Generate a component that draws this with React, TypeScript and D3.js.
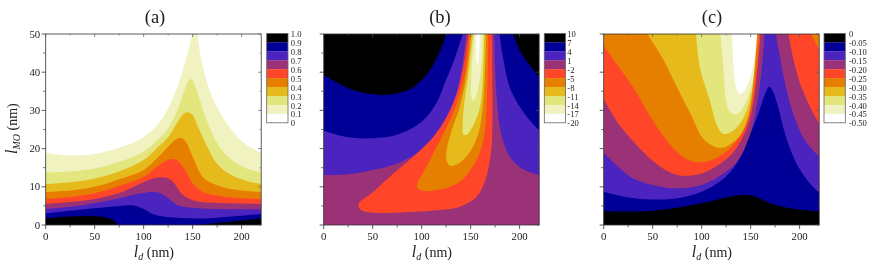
import React from "react";
import * as d3 from "d3";

type P = [number, number];
const palette = ["#000000", "#000096", "#4b23be", "#9b3278", "#ff4628", "#e67e00", "#e6ba1a", "#e3e57d", "#f0f2c0", "#ffffff"];

const labelsA = ["1.0", "0.9", "0.8", "0.7", "0.6", "0.5", "0.4", "0.3", "0.2", "0.1", "0"];
const labelsB = ["10", "7", "4", "1", "-2", "-5", "-8", "-11", "-14", "-17", "-20"];
const labelsC = ["0", "-0.05", "-0.10", "-0.15", "-0.20", "-0.25", "-0.30", "-0.35", "-0.40", "-0.45", "-0.50"];
const xTicks = [0, 50, 100, 150, 200];
const xMinor = [25, 75, 125, 175];
const yTicks = [0, 10, 20, 30, 40, 50];
const yMinor = [5, 15, 25, 35, 45];

// Panel (a): upper boundary of each band, painted from the palest to the darkest
const a01: P[] = [[0,18.9],[25,18.2],[50,18.6],[75,20.2],[100,23],[115,26.5],[125,30.5],[135,36.5],[142,42.5],[148,48],[150.5,51]];
const a01r: P[] = [[154.5,51],[157,46],[161,40.8],[170,33.5],[185,26.6],[200,22],[210,20.2],[220,19]];
const a02: P[] = [[0,13.7],[25,14],[50,14.8],[75,16.5],[100,19.2],[115,22.5],[125,25.3],[135,30.5],[141,34.8],[146,37.8],[149,38.2],[152,36.8],[157,33],[165,27],[175,21.4],[190,17],[205,14.8],[220,13.7]];
const a03: P[] = [[0,10.7],[25,11.2],[50,12.2],[75,14],[100,17],[115,20.5],[125,23],[135,27],[141,29.2],[145,29.5],[150,28.8],[155,26],[165,20.5],[175,16],[190,13],[205,11.5],[220,10.7]];
const a04: P[] = [[0,8.6],[25,9],[50,10],[75,12],[100,14.4],[115,17.8],[125,20.5],[132,22.2],[138,22.8],[143,21.8],[150,17.9],[160,12.6],[170,10.9],[185,9.6],[200,9],[220,8.6]];
const a05: P[] = [[0,6.8],[25,7.3],[50,8.3],[75,10.2],[100,12.6],[115,15.5],[125,17],[132,17.2],[140,15.3],[150,10.9],[160,8.7],[170,7.9],[190,7.2],[220,6.8]];
const a06: P[] = [[0,5.5],[25,6],[50,6.8],[75,8.4],[90,10],[105,11.8],[118,12.5],[128,11.8],[140,7.9],[150,6.5],[165,5.9],[190,5.7],[220,5.5]];
const a07: P[] = [[0,4.2],[25,4.8],[50,5.7],[75,7],[90,7.9],[105,8.6],[115,8.5],[125,7],[135,5.2],[150,4.5],[170,4.2],[220,4.1]];
const a08: P[] = [[0,3],[25,3.7],[50,4.4],[75,5],[90,5.1],[100,4.2],[110,2.8],[120,2.2],[140,1.8],[160,1.7],[190,2.2],[220,2.9]];
const a09: P[] = [[0,1.7],[25,2.2],[45,2.3],[58,2.15],[66,1.6],[71,0.9],[72.5,0]];
const a09b: P[] = [[154,0],[220,1.7]];

// Panel (b): each region is a left boundary (going up) and a right boundary (going down)
const b1L: P[] = [[0,39.3],[25,35.8],[50,34.2],[70,34.2],[90,35.8],[105,39.3],[115,43.6],[122,47.5],[126,51]];
const b1R: P[] = [[192,51],[200,45.8],[210,41.9],[220,38.7]];
const b2L: P[] = [[0,24.7],[25,23],[50,22.7],[75,23.6],[100,27],[115,31.9],[125,38],[135,44.5],[143,51]];
const b2R: P[] = [[179,51],[183,44],[190,36],[200,31],[210,27.5],[220,24.7]];
const b3L: P[] = [[0,13.1],[25,13.3],[50,14.4],[75,16.1],[100,19.6],[115,23.1],[125,27.5],[135,34],[141,41],[146,51]];
const b3R: P[] = [[174,51],[175,41],[177,32],[181,24],[190,17.9],[202,14.8],[220,13.1]];
const b4L: P[] = [[35,5],[37,6.1],[47,7.9],[67.8,12.7],[91.6,17.9],[112,23.1],[125.7,28.4],[136,34.5],[142.7,41.5],[148,51]];
const b4R: P[] = [[171.7,51],[172.3,32.7],[171,19.6],[165,11.8],[156,7.4],[139,4.8],[112,3.8],[78,3.3],[52,3.2],[39,3.8],[35,5]];
const b5L: P[] = [[95,10],[95.7,10.9],[100,13],[112,18.8],[125.7,25.7],[136,31.9],[144.4,39.7],[149.5,51]];
const b5R: P[] = [[168,51],[166.6,32.7],[163,22.2],[156,17],[142.7,12.2],[129,10],[112,9],[100,9],[95,10]];
const b6L: P[] = [[125,17],[125.7,20],[130.8,24.9],[139,31],[146,39.7],[151,51]];
const b6R: P[] = [[166,51],[163,32.7],[158,24],[149.5,19.2],[137.6,16.1],[129,15.5],[125,17]];
const b7L: P[] = [[141.7,24.5],[142.7,30],[147.8,39.7],[153,51]];
const b7R: P[] = [[163.8,51],[162.5,38.8],[159.7,31],[153,26.2],[146,23.6],[142.7,23.6],[141.7,24.5]];
const b8L: P[] = [[150.2,34.5],[151.2,41.5],[154,51]];
const b8R: P[] = [[162.5,51],[161.4,43.2],[158,36.2],[154.6,33.2],[152.2,32.5],[150.2,34.5]];
const b9L: P[] = [[155.7,43],[155.3,51]];
const b9R: P[] = [[159.7,51],[158.8,46],[157.2,42],[155.7,43]];
const regionsB: P[][][] = [[b1L, b1R], [b2L, b2R], [b3L, b3R], [b4L, b4R], [b5L, b5R], [b6L, b6R], [b7L, b7R], [b8L, b8R], [b9L, b9R]];

// Panel (c): the central lobes, then the regions under each boundary
const c7: P[] = [[94,51],[98,41.5],[109,32],[115,26.5],[122,23.9],[132,24.7],[142,27.7],[149.5,33],[155,42],[157.5,51]];
const c8: P[] = [[119,51],[122,41.5],[125,32.5],[129,29.5],[136,29],[144,31.5],[151,36.5],[156,44],[157.5,51]];
const c9: P[] = [[131,51],[132.5,41.5],[136,35.3],[139,34.2],[144,35.3],[151,39.8],[154.5,45],[157,51]];
const c5L: P[] = [[42.2,51],[61,43.2],[76.3,35.3],[90,28.4],[100,23.1],[110,20.9],[120.6,20.2],[130.8,21.4],[141,24],[147.8,28.4],[153,38],[157,51]];
const c5R: P[] = [[190,51],[220,51]];
const c4L: P[] = [[0,47],[15,41.5],[32,35.3],[45.6,29.2],[59,24],[69.5,20.5],[83,17.5],[96.7,16.4],[110,17],[127,19.6],[141,24],[149.5,30],[154.6,38],[158.7,51]];
const c4R: P[] = [[209.8,51],[220,45.8]];
const c3L: P[] = [[0,33],[15,26.6],[32,21.4],[49,17],[66,14],[79.7,12.9],[100,13.5],[117,15.7],[134,19.6],[147.8,26.6],[154.6,35.3],[160.4,51]];
const c3R: P[] = [[188,51],[193.8,43.2],[202,36],[212.5,30],[220,26.6]];
const c2L: P[] = [[0,18.9],[15,15.2],[30,12.2],[50,10.5],[75,9.6],[100,10.5],[117,12.6],[134,16],[146,21],[155,29.5],[161,40],[164.5,51]];
const c2R: P[] = [[175,51],[180,44],[185,37.3],[193,29.5],[205,22.3],[220,17.9]];
const c1: P[] = [[0,8.7],[25,7.2],[50,6.7],[75,7],[100,8.7],[125,12.7],[140,17.9],[150,24],[158,29.2],[165,34.5],[169,36.2],[173,34.9],[178,31],[185,24],[195,17],[205,12.7],[215,9.6],[220,8.5]];
const c0: P[] = [[0,3.6],[50,3.75],[100,5.7],[125,7.2],[145,7.9],[155,7.4],[170,5.7],[190,4.4],[220,3.6]];

const plotW = 215.5;
const plotH = 191;
const top = 34;

type S = d3.ScaleLinear<number, number>;
// open smooth segments joined by straight lines into one filled region
function region(segs: P[][], x: S, y: S, close: "bottom" | "none" = "bottom") {
  const line = d3.line<P>().x((d) => x(d[0])).y((d) => y(d[1])).curve(d3.curveCatmullRom.alpha(0.5));
  const body = segs.map((s, i) => (i ? (line(s) ?? "").replace(/^M/, "L") : line(s) ?? "")).join("");
  const tail = close === "bottom" ? `L${x(220)},${y(-1)}L${x(0)},${y(-1)}` : "";
  return `${body}${tail}Z`;
}

const serif = "'Liberation Serif', 'Times New Roman', serif";

function Panel({ id, left, title, titleX, barX, labels, labelLeft, yAxis, children }: any) {
  const x = d3.scaleLinear().domain([0, 220]).range([left, left + plotW]);
  const y = d3.scaleLinear().domain([0, 50]).range([top + plotH, top]);
  const barH = 8.94;
  const barY = d3.scaleLinear().domain([0, 10]).range([33.4, 33.4 + barH * 10]);
  return (
    <g fontFamily={serif} fill="#222">
      <clipPath id={id}>
        <rect x={left} y={top} width={plotW} height={plotH} />
      </clipPath>
      <g clipPath={`url(#${id})`}>{children(x, y)}</g>
      <rect x={left} y={top} width={plotW} height={plotH} fill="none" stroke="#333" strokeWidth={0.8} />
      {xTicks.map((t) => (
        <g key={t}>
          <line x1={x(t)} x2={x(t)} y1={y(0)} y2={y(0) + 4} stroke="#333" strokeWidth={0.8} />
          <line x1={x(t)} x2={x(t)} y1={top} y2={top + 3} stroke="#555" strokeWidth={0.7} />
          <text x={x(t)} y={y(0) + 15} fontSize={10.8} textAnchor="middle">{t}</text>
        </g>
      ))}
      {xMinor.map((t) => (
        <g key={t}>
          <line x1={x(t)} x2={x(t)} y1={y(0)} y2={y(0) + 2.5} stroke="#333" strokeWidth={0.7} />
          <line x1={x(t)} x2={x(t)} y1={top} y2={top + 1.5} stroke="#555" strokeWidth={0.6} />
        </g>
      ))}
      {yTicks.map((t) => (
        <g key={t}>
          <line x1={left - 4} x2={left} y1={y(t)} y2={y(t)} stroke="#333" strokeWidth={0.8} />
          <line x1={left + plotW - 3} x2={left + plotW} y1={y(t)} y2={y(t)} stroke="#555" strokeWidth={0.7} />
          {yAxis && <text x={left - 5.5} y={y(t) + 3.6} fontSize={10.8} textAnchor="end">{t}</text>}
        </g>
      ))}
      {yMinor.map((t) => (
        <g key={t}>
          <line x1={left - 2.5} x2={left} y1={y(t)} y2={y(t)} stroke="#333" strokeWidth={0.7} />
          <line x1={left + plotW - 1.5} x2={left + plotW} y1={y(t)} y2={y(t)} stroke="#555" strokeWidth={0.6} />
        </g>
      ))}
      <text x={titleX} y={23} fontSize={18.5} textAnchor="middle">{title}</text>
      <text x={left + plotW / 2 + 0.5} y={257} fontSize={14} textAnchor="middle">
        <tspan fontStyle="italic" fontSize={16}>l</tspan>
        <tspan fontStyle="italic" fontSize={10} dy={3}>d</tspan>
        <tspan dy={-3}> (nm)</tspan>
      </text>
      {palette.map((c, i) => (
        <rect key={c} x={barX} y={barY(i)} width={21.3} height={barH + 0.2} fill={c} />
      ))}
      <rect x={barX} y={barY(0)} width={21.3} height={barH * 10} fill="none" stroke="#666" strokeWidth={0.8} />
      {labels.map((l: string, i: number) => (
        <text key={l} x={barX + labelLeft} y={barY(i) + 3.6} fontSize={8.6}>{l}</text>
      ))}
    </g>
  );
}

export default function App() {
  return (
    <svg width={872} height={270} style={{ position: "absolute", left: 0, top: 0, background: "#fff", filter: "blur(0.3px)" }}>
      <Panel id="pa" left={45.7} title="(a)" titleX={155} barX={266.7} labels={labelsA} labelLeft={24} yAxis
        children={(x: S, y: S) => (
          <g>
            <rect x={x(0)} y={y(50)} width={plotW} height={plotH} fill={palette[9]} />
            <path d={region([a01, a01r], x, y)} fill={palette[8]} />
            {[a02, a03, a04, a05, a06, a07, a08].map((b, i) => (
              <path key={i} d={region([b], x, y)} fill={palette[7 - i]} />
            ))}
            <path d={region([a09], x, y, "none") + `M${x(0)},${y(1.7)}L${x(72.5)},${y(0)}L${x(0)},${y(0)}Z`} fill={palette[0]} />
            <path d={`M${x(a09b[0][0])},${y(a09b[0][1])}L${x(a09b[1][0])},${y(a09b[1][1])}L${x(220)},${y(0)}Z`} fill={palette[0]} />
          </g>
        )}
      />
      <Panel id="pb" left={323.7} title="(b)" titleX={440} barX={544.3} labels={labelsB} labelLeft={23} yAxis={false}
        children={(x: S, y: S) => (
          <g>
            <rect x={x(0)} y={y(50)} width={plotW} height={plotH} fill={palette[0]} />
            {regionsB.map((r, i) => (
              <path key={i} d={region(r, x, y, i < 3 ? "bottom" : "none")} fill={palette[i + 1]} />
            ))}
          </g>
        )}
      />
      <Panel id="pc" left={603.7} title="(c)" titleX={712} barX={824} labels={labelsC} labelLeft={25} yAxis={false}
        children={(x: S, y: S) => (
          <g>
            <rect x={x(0)} y={y(50)} width={plotW} height={plotH} fill={palette[6]} />
            <path d={region([c7], x, y, "none")} fill={palette[7]} />
            <path d={region([c8], x, y, "none")} fill={palette[8]} />
            <path d={region([c9], x, y, "none")} fill={palette[9]} />
            <path d={`M${x(0)},${y(51)}` + region([c5L, c5R], x, y).replace(/^M/, "L")} fill={palette[5]} />
            <path d={region([c4L, c4R], x, y)} fill={palette[4]} />
            <path d={region([c3L, c3R], x, y)} fill={palette[3]} />
            <path d={region([c2L, c2R], x, y)} fill={palette[2]} />
            <path d={region([c1], x, y)} fill={palette[1]} />
            <path d={region([c0], x, y)} fill={palette[0]} />
          </g>
        )}
      />
      <text transform="translate(17,154) rotate(-90)" fontFamily={serif} fontSize={14} fill="#222">
        <tspan fontStyle="italic" fontSize={16}>l</tspan>
        <tspan fontStyle="italic" fontSize={10} dy={3}>MO</tspan>
        <tspan dy={-3}> (nm)</tspan>
      </text>
    </svg>
  );
}
